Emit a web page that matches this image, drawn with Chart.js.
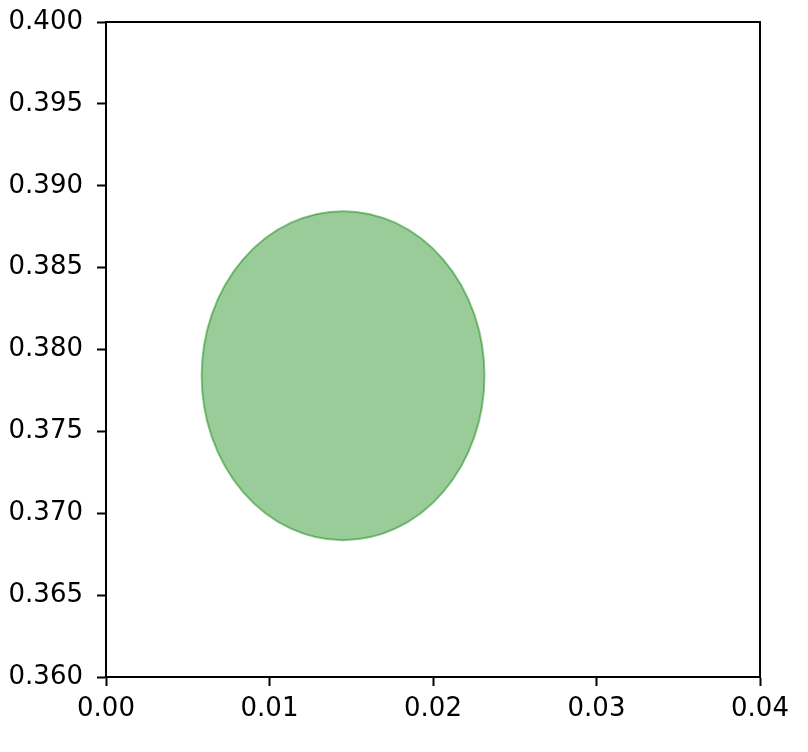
<!DOCTYPE html>
<html>
<head>
<meta charset="utf-8">
<script src="https://cdn.jsdelivr.net/npm/chart.js@4/dist/chart.umd.min.js"></script>
<style>
    html, body { margin: 0; padding: 0; background: #fff; }
    #wrap { width: 808px; height: 752px; }
</style>
</head>
<body>
<div id="wrap"><canvas id="chart" width="808" height="752"></canvas></div>
<script>
// ellipse data: center, full width and height in data units
const ellipseCenter = [0.0145, 0.3784];
const ellipseSize = [0.0173, 0.0201];

const xTicks = [0.00, 0.01, 0.02, 0.03, 0.04];
const yTicks = [0.360, 0.365, 0.370, 0.375, 0.380, 0.385, 0.390, 0.395, 0.400];

const ellipsePlugin = {
    id: 'ellipse',
    beforeDatasetsDraw(chart) {
        const ctx = chart.ctx;
        const xs = chart.scales.x, ys = chart.scales.y;
        const cx = xs.getPixelForValue(ellipseCenter[0]);
        const cy = ys.getPixelForValue(ellipseCenter[1]);
        const rx = Math.abs(xs.getPixelForValue(ellipseCenter[0] + ellipseSize[0] / 2) - cx);
        const ry = Math.abs(ys.getPixelForValue(ellipseCenter[1] + ellipseSize[1] / 2) - cy);
        ctx.save();
        ctx.beginPath();
        ctx.ellipse(cx, cy, rx, ry, 0, 0, Math.PI * 2);
        ctx.fillStyle = 'rgba(0,128,0,0.4)';
        ctx.fill();
        ctx.lineWidth = 2;
        ctx.strokeStyle = 'rgba(0,128,0,0.45)';
        ctx.stroke();
        ctx.restore();
    }
};

const framePlugin = {
    id: 'frame',
    afterDraw(chart) {
        const a = chart.chartArea;
        const ctx = chart.ctx;
        ctx.save();
        ctx.strokeStyle = '#000';
        ctx.lineWidth = 2;
        ctx.strokeRect(a.left, a.top, a.right - a.left, a.bottom - a.top);
        ctx.restore();
    }
};

function tickStyle(values, digits, fitSize, horizontal, pad) {
    return {
        type: 'linear',
        min: values[0],
        max: values[values.length - 1],
        afterBuildTicks(scale) {
            scale.ticks = values.map(v => ({ value: v }));
        },
        afterFit(scale) {
            if (horizontal) {
                scale.height = fitSize;
                scale.paddingLeft = 0;
                scale.paddingRight = 0;
            } else {
                scale.width = fitSize;
                scale.paddingTop = 0;
                scale.paddingBottom = 0;
            }
        },
        grid: {
            drawOnChartArea: false,
            drawTicks: true,
            tickLength: 9,
            tickWidth: 2,
            tickColor: '#000'
        },
        border: { display: true, color: '#000', width: 2 },
        ticks: {
            color: '#000',
            padding: pad,
            maxRotation: 0,
            autoSkip: false,
            font: { family: 'DejaVu Sans', size: 26 },
            callback: v => Number(v).toFixed(digits)
        }
    };
}

new Chart(document.getElementById('chart'), {
    type: 'scatter',
    data: { datasets: [{ data: [] }] },
    options: {
        responsive: false,
        animation: false,
        layout: { padding: { left: 0, right: 48, top: 22, bottom: 0 } },
        plugins: { legend: { display: false }, tooltip: { enabled: false } },
        scales: {
            x: tickStyle(xTicks, 2, 75, true, 8),
            y: tickStyle(yTicks, 3, 106, false, 14)
        }
    },
    plugins: [ellipsePlugin, framePlugin]
});
</script>
</body>
</html>
